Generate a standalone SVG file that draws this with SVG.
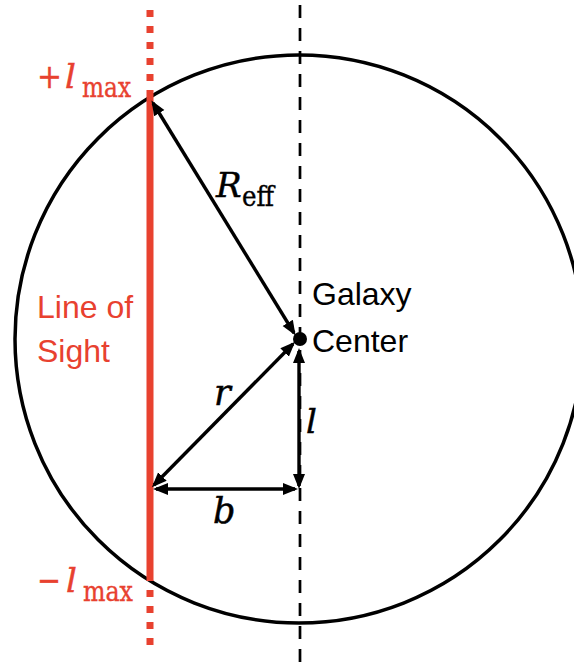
<svg xmlns="http://www.w3.org/2000/svg" width="574" height="668" viewBox="0 0 574 668">
<style>
.red{fill:#e8412f;stroke:#e8412f}
.blk{fill:#000;stroke:#000}
.math{font-family:"DejaVu Serif","Liberation Serif",serif;font-style:italic;stroke-width:0.5}
.sub{font-family:"DejaVu Serif","Liberation Serif",serif;font-style:normal;stroke-width:0.4}
.sans{font-family:"Liberation Sans",Arial,sans-serif;font-size:32px}
.arrow{stroke:#000;stroke-width:3.4;fill:none;marker-start:url(#ah);marker-end:url(#ah)}
</style>
<defs>
<marker id="ah" markerUnits="userSpaceOnUse" markerWidth="16" markerHeight="14" refX="12" refY="7" orient="auto-start-reverse">
<path d="M0,1 L15,7 L0,13 z" fill="#000"/>
</marker>
</defs>
<rect width="574" height="668" fill="#fff"/>
<g id="galaxy-circle">
<circle cx="299" cy="339" r="284" fill="none" stroke="#000" stroke-width="3.5"/>
</g>
<g id="axis">
<line x1="300" y1="5" x2="300" y2="668" stroke="#000" stroke-width="2.7" stroke-dasharray="13 10"/>
</g>
<g id="line-of-sight">
<line x1="150" y1="10" x2="150" y2="97" stroke="#e8412f" stroke-width="7" stroke-dasharray="7 9"/>
<line x1="150" y1="97" x2="150" y2="581" stroke="#e8412f" stroke-width="7"/>
<line x1="150" y1="590" x2="150" y2="648" stroke="#e8412f" stroke-width="7" stroke-dasharray="7 9"/>
<text class="sans" fill="#e8412f" x="37" y="318">Line of</text>
<text class="sans" fill="#e8412f" x="37" y="362">Sight</text>
</g>
<g id="lmax-top" class="red">
<text class="sub" x="37" y="88" font-size="34" textLength="25" lengthAdjust="spacingAndGlyphs">+</text>
<text class="math" x="65" y="88" font-size="34">l</text>
<text class="sub" x="82" y="97" font-size="28" textLength="49" lengthAdjust="spacingAndGlyphs">max</text>
</g>
<g id="lmax-bottom" class="red">
<text class="sub" x="37" y="592" font-size="34" textLength="24" lengthAdjust="spacingAndGlyphs">−</text>
<text class="math" x="66" y="592" font-size="34">l</text>
<text class="sub" x="83" y="601" font-size="28" textLength="50" lengthAdjust="spacingAndGlyphs">max</text>
</g>
<g id="center">
<circle cx="300" cy="339" r="7" fill="#000"/>
<text class="sans" x="312" y="305">Galaxy</text>
<text class="sans" x="312" y="352">Center</text>
</g>
<g id="connectors">
<line class="arrow" x1="153" y1="103" x2="294" y2="333"/>
<line class="arrow" x1="154" y1="485" x2="293" y2="344"/>
<line class="arrow" x1="299" y1="351" x2="299" y2="486"/>
<line class="arrow" x1="156" y1="489" x2="295" y2="489"/>
</g>
<g id="labels" class="blk">
<text class="math" x="216" y="197" font-size="34">R</text>
<text class="sub" x="242" y="206" font-size="27" textLength="32" lengthAdjust="spacingAndGlyphs">eff</text>
<text class="math" x="214" y="405" font-size="35">r</text>
<text class="math" x="306" y="433" font-size="34">l</text>
<text class="math" x="213" y="523" font-size="35">b</text>
</g>
</svg>
